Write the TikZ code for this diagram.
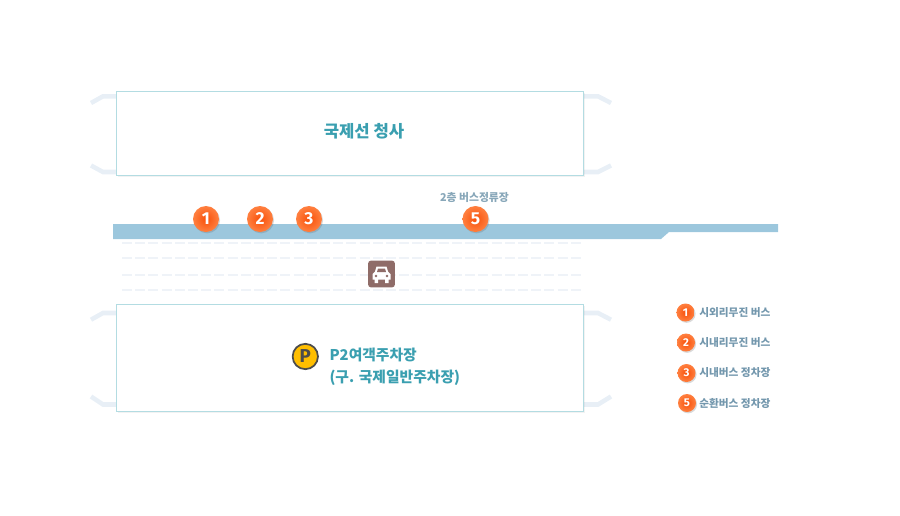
\documentclass[tikz,border=0pt]{standalone}
\usepackage{fontspec}
\setmainfont{Noto Sans CJK KR}
\newfontfamily\numfont{Fira Sans}
\usetikzlibrary{shadows}
\definecolor{barblue}{HTML}{9CC7DD}
\definecolor{boxline}{HTML}{B3DCE2}
\definecolor{wing}{HTML}{E8EFF6}
\definecolor{lane}{HTML}{EFF3F8}
\definecolor{teal}{HTML}{3A9FB0}
\definecolor{greyblue}{HTML}{7397AD}
\definecolor{badgeout}{HTML}{FF8040}
\definecolor{badgein}{HTML}{F8500A}
\definecolor{carbox}{HTML}{8F6C68}
\definecolor{amber}{HTML}{FFBE00}
\tikzset{
  hall/.style={draw=boxline, line width=.9pt, fill=white, inner sep=0pt, drop shadow={shadow xshift=1.5pt, shadow yshift=-1.5pt, fill=black!40, opacity=.13}},
  wingline/.style={draw=wing, line width=3.4pt},
  laneline/.style={draw=lane, line width=1.5pt, dash pattern=on 7.5pt off 2.4pt},
  badge/.style={circle, inner sep=0pt, minimum size=19.5pt, text=white, font=\numfont\bfseries\fontsize{13}{13}\selectfont, inner color=badgein, outer color=badgeout, drop shadow={shadow xshift=.8pt, shadow yshift=-1pt, fill=black!60, opacity=.25}},
  smallbadge/.style={badge, minimum size=13.5pt, font=\numfont\bfseries\fontsize{8.5}{8.5}\selectfont},
  legend/.style={anchor=west, inner sep=0pt, text=greyblue, font=\bfseries\fontsize{8}{10}\selectfont},
  hallname/.style={inner sep=0pt, text=teal, font=\bfseries\selectfont}
}
\begin{document}
\begin{tikzpicture}[x=.75pt, y=-.75pt]
  \useasboundingbox (0,0) rectangle (900,515);
  % side wings
  \foreach \ya/\yb in {103/96.3, 165.5/172, 319.7/313, 396.5/404.5}{
    \draw [wingline] (91,\ya) -- (103,\yb) -- (116,\yb);
    \draw [wingline] (611,\ya) -- (598,\yb) -- (583,\yb);
  }
  % halls
  \node [hall, minimum width=350.2pt, minimum height=63pt] (terminal) at (349.9,133.4) {};
  \node [hall, minimum width=350.2pt, minimum height=80.2pt] (parking) at (349.9,357.9) {};
  \node [hallname, font=\bfseries\fontsize{12.5}{16}\selectfont] (terminalname) at (364,131.5) {국제선 청사};
  % lanes
  \foreach \y in {243,258,275,290}
    \draw [laneline] (122,\y) -- (581,\y);
  % bus bar
  \fill [barblue] (113,224) -- (778,224) -- (778,232) -- (669,232) -- (661,239) -- (113,239) -- cycle;
  \node [badge] (stopa) at (206,219) {1};
  \node [badge] (stopb) at (260,219) {2};
  \node [badge] (stopc) at (309,219) {3};
  \node [badge] (stope) at (475.5,219) {5};
  \node [inner sep=0pt, text=greyblue!85, font=\bfseries\fontsize{8.1}{10}\selectfont] (floor) at (474.5,197.5) {2층 버스정류장};
  % car
  \node [fill=carbox, rounded corners=2pt, minimum size=20pt, inner sep=0pt] (car) at (381.5,274) {};
  \fill [white] (372.5,279.5) -- (372.5,274) -- (375,271.5) -- (376.5,266.5) -- (386.5,266.5) -- (388,271.5) -- (390.5,274) -- (390.5,279.5) -- (388.5,279.5) -- (388.5,283) -- (385,283) -- (385,279.5) -- (378,279.5) -- (378,283) -- (374.5,283) -- (374.5,279.5) -- cycle;
  \fill [carbox] (377,272) -- (378,268.5) -- (385,268.5) -- (386,272) -- cycle;
  \fill [carbox] (376,276) circle (1.3);
  \fill [carbox] (387,276) circle (1.3);
  % parking
  \node [circle, draw=black!70, line width=1.3pt, fill=amber, inner sep=0pt, minimum size=19pt, text=black!70, font=\numfont\bfseries\fontsize{14}{14}\selectfont] (psign) at (305.3,356.5) {P};
  \node [hallname, anchor=west, align=left, font=\bfseries\fontsize{11.1}{16.5}\selectfont] (parkname) at (329.3,367) {P2여객주차장\\(구. 국제일반주차장)};
  % legend
  \node [smallbadge] (keya) at (685.5,312.5) {1};
  \node [smallbadge] (keyb) at (686,342.5) {2};
  \node [smallbadge] (keyc) at (686.5,373) {3};
  \node [smallbadge] (keye) at (687,403) {5};
  \node [legend] at (699,313) {시외리무진 버스};
  \node [legend] at (699,343) {시내리무진 버스};
  \node [legend] at (699,373) {시내버스 정차장};
  \node [legend] at (699,403) {순환버스 정차장};
\end{tikzpicture}
\end{document}
